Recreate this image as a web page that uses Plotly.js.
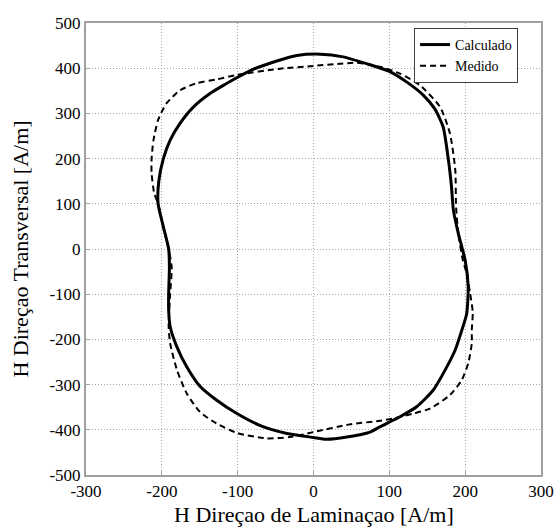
<!DOCTYPE html>
<html>
<head>
<meta charset="utf-8">
<script src="https://cdn.plot.ly/plotly-3.0.1.min.js"></script>
<style>html,body{margin:0;padding:0;background:#fff;}#chart{width:555px;height:527px;}</style>
</head>
<body>
<div id="chart"></div>
<script>
// Calculado (solid)
const calcX = [200, 191, 184.5, 182, 178, 171, 160, 145, 125, 100, 70, 39, 9, -22, -44, -66, -82, -100, -118, -136.5, -158.5, -176, -189, -198, -204, -205, -198, -191, -190, -191, -191, -189, -180, -167, -150, -128, -101, -71, -35, 0, 17, 44, 74.5, 88, 114, 136, 158, 173.5, 186.7, 195.5, 202, 204, 200];
const calcY = [-25, 34, 86, 137, 196, 270, 310, 340, 367, 393, 410, 425, 431, 428, 418, 406, 396, 380, 363, 344, 314, 278, 241, 200, 150, 101, 49, 0, -40, -98, -135, -172, -217, -261, -303, -334, -364, -390, -408, -417, -421, -416, -405, -393, -371, -349, -312, -268, -224, -180, -143, -84, -25];
// Medido (dashed)
const medX = [197, 191, 188, 187, 180, 167, 140.5, 114, 88, 57, 35, 0, -44, -101, -128, -154, -176, -194, -205, -211, -213.5, -213.5, -210, -205, -198, -191, -187, -189, -191, -189, -180, -167, -150, -128, -101, -62, -31, 0, 48, 88, 105, 131.7, 153.7, 180, 195.5, 204, 208.7, 208.7, 210, 206.5, 202, 197];
const medY = [-25, 34, 93, 174, 255, 314, 362, 388, 403, 412, 410, 405, 399, 385, 375, 367, 351, 322, 285, 241, 200, 167, 123, 101, 49, 0, -40, -98, -172, -209, -268, -320, -360, -386, -407, -419, -416, -405, -388, -380, -375, -364, -353, -323, -290, -253, -209, -180, -140, -98, -54, -25];

const xTicks = [-300, -200, -100, 0, 100, 200, 300];
const xTickLabels = ['-300', '-200', '-100', '0', '100', '200', '300'];
const yTicks = [-500, -400, -300, -200, -100, 0, 100, 200, 300, 400, 500];
const yTickLabels = ['-500', '-400', '-300', '-200', '-100', '0', '100', '200', '300', '400', '500'];
const xTitle = 'H Direçao de Laminaçao [A/m]';
const yTitle = 'H Direçao Transversal [A/m]';

const font = '"Times New Roman", "Liberation Serif", serif';
const traces = [
  {x: calcX, y: calcY, mode: 'lines', name: 'Calculado', line: {color: '#000', width: 3, shape: 'spline', smoothing: 0.6}},
  {x: medX, y: medY, mode: 'lines', name: 'Medido', line: {color: '#000', width: 2, dash: '6px,4px', shape: 'spline', smoothing: 0.6}}
];
function axis(extra) {
  return Object.assign({
    showline: true, mirror: true, linecolor: '#a0a0a0', linewidth: 2,
    showgrid: true, gridcolor: '#a8a8a8', gridwidth: 1, griddash: '1px,2px',
    zeroline: false, ticks: 'inside', ticklen: 4, tickcolor: '#a0a0a0',
    tickfont: {family: font, size: 17, color: '#000'}
  }, extra);
}
const layout = {
  width: 555, height: 527,
  font: {family: font, size: 17, color: '#000'},
  margin: {l: 86, r: 14, t: 23, b: 52},
  paper_bgcolor: '#fff', plot_bgcolor: '#fff',
  showlegend: true,
  legend: {x: 0.721, y: 0.989, xanchor: 'left', yanchor: 'top',
    bgcolor: '#fff', bordercolor: '#404040', borderwidth: 1,
    font: {family: font, size: 14, color: '#000'}, tracegroupgap: 0},
  xaxis: axis({range: [-300, 300], tickvals: xTicks, ticktext: xTickLabels}),
  yaxis: axis({range: [-500, 500], tickvals: yTicks, ticktext: yTickLabels,
    title: {text: yTitle, font: {family: font, size: 22, color: '#000'}, standoff: 15}}),
  annotations: [{
    text: xTitle, xref: 'paper', yref: 'paper', x: 0.5, y: -0.087,
    xanchor: 'center', yanchor: 'middle', showarrow: false,
    font: {family: font, size: 22, color: '#000'}
  }]
};
Plotly.newPlot('chart', traces, layout, {displayModeBar: false, staticPlot: true});
</script>
</body>
</html>
